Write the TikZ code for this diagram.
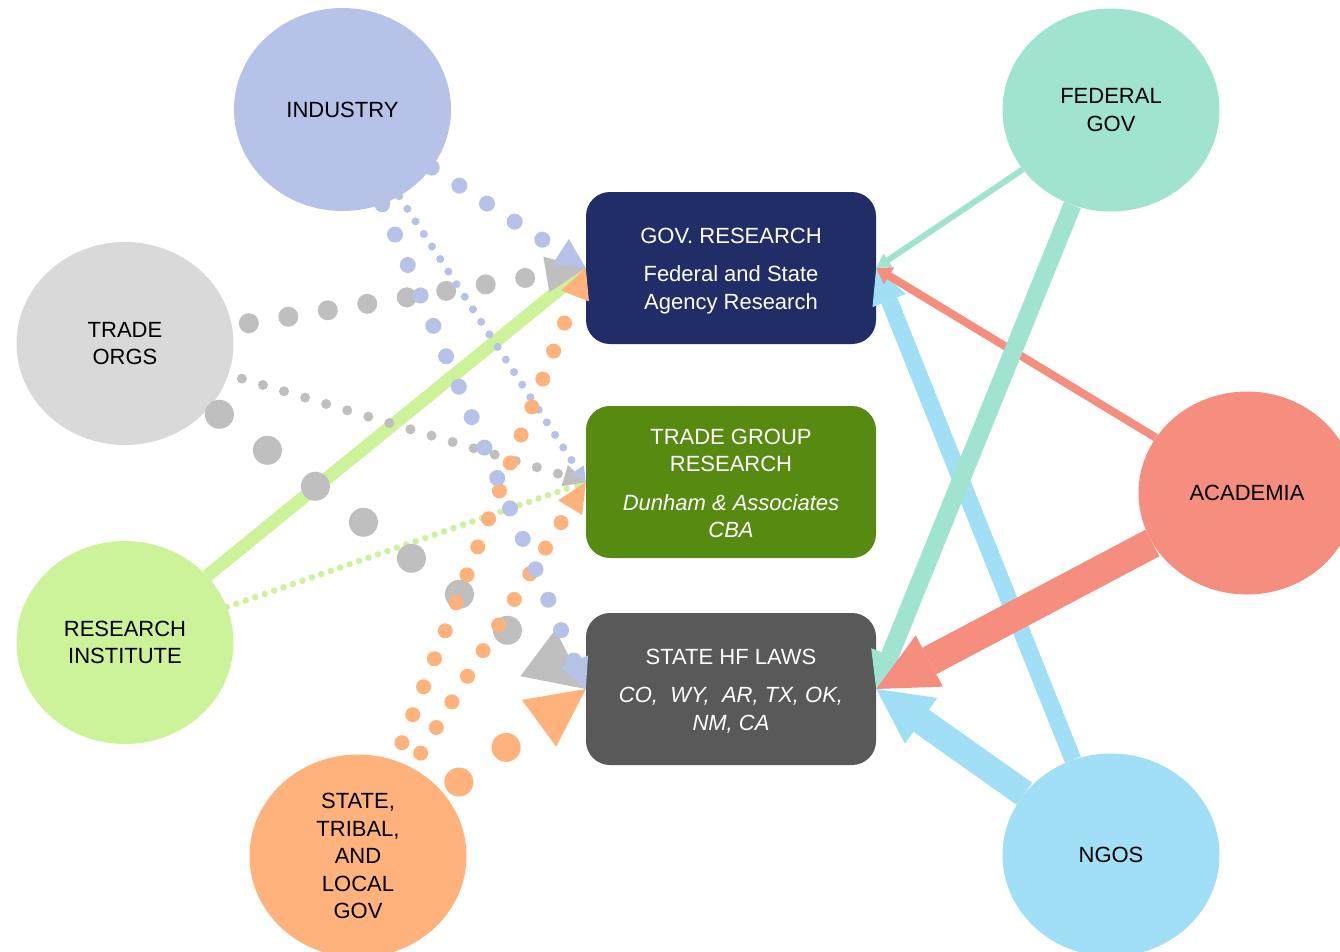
\documentclass[tikz,border=0pt]{standalone}
\usepackage{fontspec}
\setmainfont{Liberation Sans}
\usetikzlibrary{shapes.geometric,arrows.meta}
\definecolor{cInd}{HTML}{B6C2E7}
\definecolor{cTrade}{HTML}{D9D9D9}
\definecolor{cTradeDot}{HTML}{BFBFBF}
\definecolor{cRes}{HTML}{CCF29A}
\definecolor{cState}{HTML}{FFB27B}
\definecolor{cFed}{HTML}{A0E3D1}
\definecolor{cAcad}{HTML}{F58E7E}
\definecolor{cNgo}{HTML}{A0DFF6}
\definecolor{cGov}{HTML}{212D66}
\definecolor{cTG}{HTML}{578A11}
\definecolor{cLaw}{HTML}{595959}
\begin{document}
\begin{tikzpicture}[x=1pt,y=-1pt,
  party/.style={ellipse, minimum width=217pt, minimum height=203pt, inner sep=0pt,
    align=center, text=black, font=\fontsize{22}{27.5}\selectfont},
  srcbox/.style={rectangle, rounded corners=24pt, minimum width=290pt, minimum height=152pt,
    inner sep=0pt},
  boxtext/.style={align=center, text=white, inner sep=0pt, font=\fontsize{22}{27.5}\selectfont},
  dotsep/.style={line cap=round, dash pattern=on 0pt off #1},
  headed/.style 2 args={-{Triangle[length=#1,width=#2,line width=0pt]}}
]
\useasboundingbox (0,0) rectangle (1340,951);
\clip (0,0) rectangle (1340,951);
\fill[white] (0,0) rectangle (1340,951);

% boxes
\node[srcbox, fill=cGov] (gov) at (731,268) {};
\node[srcbox, fill=cTG] (tg) at (731,482) {};
\node[srcbox, fill=cLaw] (law) at (731,689) {};
\node[boxtext] (govt) at ([yshift=-3pt]gov.center) {GOV. RESEARCH\\[10.5pt]Federal and State\\Agency Research};
\node[boxtext] (tgt) at ([yshift=-1.5pt]tg.center) {TRADE GROUP\\RESEARCH\\[11pt]\itshape Dunham \& Associates\\\itshape CBA};
\node[boxtext] (lawt) at ([yshift=-2pt]law.center) {STATE HF LAWS\\[10.5pt]\itshape CO,\ \ WY,\ \ AR, TX, OK,\\\itshape NM, CA};

% parties
\node[party, fill=cInd] (ind) at (342.5,109.5) {INDUSTRY};
\node[party, fill=cTrade] (tor) at (125,343.5) {TRADE\\ORGS};
\node[party, fill=cRes] (res) at (125,642.5) {RESEARCH\\INSTITUTE};
\node[party, fill=cState] (sta) at (358,856) {STATE,\\TRIBAL,\\AND\\LOCAL\\GOV};
\node[party, fill=cFed] (fed) at (1111,110) {FEDERAL\\GOV};
\node[party, fill=cAcad] (aca) at (1247,493) {ACADEMIA};
\node[party, fill=cNgo] (ngo) at (1111,855) {NGOS};

% left connectors
\draw[cRes, line width=13pt, headed={26pt}{26pt}] (res) -- (gov.west);
\draw[cRes, line width=6.5pt, dotsep=10pt, headed={12pt}{12pt}] (res) -- (tg.west);
\draw[cTradeDot, line width=20pt, dotsep=40pt, shorten <=17pt, headed={40pt}{36pt}] (tor) -- (gov.west);
\draw[cTradeDot, line width=10pt, dotsep=22pt, shorten <=14pt, headed={22pt}{22pt}] (tor) -- (tg.west);
\draw[cTradeDot, line width=29pt, dotsep=60pt, shorten <=12pt, headed={60pt}{58pt}] (tor) -- (law.west);
\draw[cInd, line width=8pt, dotsep=15pt, headed={15pt}{15pt}] (ind) -- (tg.west);
\draw[cState, line width=15pt, dotsep=30pt, shorten <=19pt, headed={30pt}{30pt}] (sta) -- (gov.west);
\draw[cState, line width=15pt, dotsep=30pt, shorten <=17pt, headed={30pt}{28pt}] (sta) -- (tg.west);
\draw[cState, line width=29pt, dotsep=58.6pt, shorten <=19pt, headed={58pt}{58pt}] (sta) -- (law.west);
\draw[cInd, line width=16pt, dotsep=33pt, headed={30pt}{30pt}] (ind) -- (law.west);
\draw[cInd, line width=16pt, dotsep=33pt, headed={30pt}{30pt}] (ind) -- (gov.west);

% right connectors
\draw[cNgo, line width=17pt, headed={35pt}{36pt}] (ngo) -- (gov.east);
\draw[cAcad, line width=8pt, headed={15pt}{20pt}] (aca) -- (gov.east);
\draw[cFed, line width=6pt, headed={14pt}{16pt}] (fed) -- (gov.east);
\draw[cFed, line width=18pt, headed={36pt}{40pt}] (fed) -- (law.east);
\draw[cAcad, line width=30pt, headed={60pt}{58pt}] (aca) -- (law.east);
\draw[cNgo, line width=27pt, headed={55pt}{56pt}] (ngo) -- (law.east);
\end{tikzpicture}
\end{document}
